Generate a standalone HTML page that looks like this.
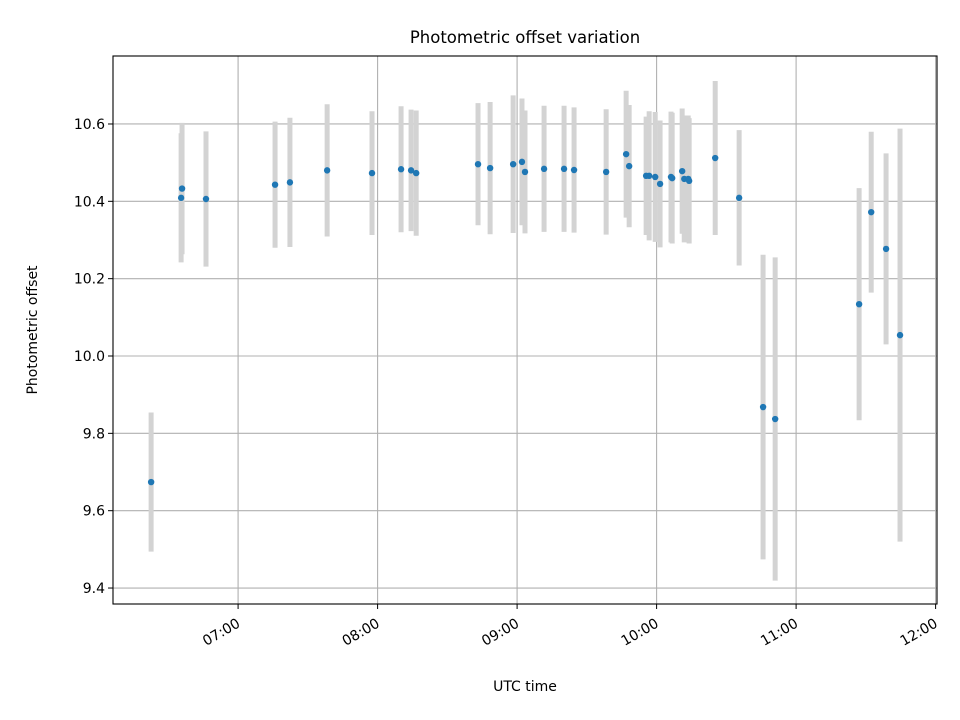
<!DOCTYPE html>
<html><head><meta charset="utf-8"><style>
body{margin:0;background:#fff;}
svg{display:block;font-family:"DejaVu Sans","Liberation Sans",sans-serif;}
</style></head><body>
<svg id="chart" width="960" height="720" viewBox="0 0 960 720">
<rect x="0" y="0" width="960" height="720" fill="#fff"/>
<g id="grid"></g>
<g id="marks"></g>
<g id="axes"></g>
<text x="525" y="43" text-anchor="middle" font-size="16.5" fill="#000">Photometric offset variation</text>
<text x="525" y="691" text-anchor="middle" font-size="14" fill="#000">UTC time</text>
<text x="0" y="0" transform="translate(37,330) rotate(-90)" text-anchor="middle" font-size="14" fill="#000">Photometric offset</text>
</svg>
<script>
// time in minutes since midnight UTC
const times = [382.6,395.5,395.9,406.2,435.9,442.3,458.3,477.6,490.1,494.4,496.6,523.2,528.4,538.3,542.1,543.4,551.6,560.2,564.5,578.3,586.9,588.2,595.5,596.8,599.4,601.5,606.2,606.7,611.0,611.9,613.6,614.0,625.2,635.5,645.8,651.0,687.1,692.3,698.7,704.7];
const offsets = [9.674,10.409,10.433,10.406,10.443,10.449,10.480,10.473,10.483,10.480,10.473,10.496,10.486,10.496,10.502,10.476,10.484,10.484,10.481,10.476,10.522,10.491,10.466,10.466,10.463,10.445,10.463,10.460,10.478,10.458,10.458,10.453,10.512,10.409,9.868,9.837,10.134,10.372,10.277,10.054];
const errors = [0.180,0.167,0.170,0.175,0.163,0.167,0.171,0.160,0.163,0.157,0.162,0.158,0.171,0.178,0.164,0.159,0.163,0.163,0.162,0.162,0.164,0.158,0.153,0.167,0.168,0.164,0.169,0.169,0.162,0.164,0.164,0.162,0.199,0.175,0.394,0.418,0.300,0.208,0.247,0.534];
const yTicks = [9.4,9.6,9.8,10.0,10.2,10.4,10.6];
const xTicks = [420,480,540,600,660,720];
const xTickLabels = ["07:00","08:00","09:00","10:00","11:00","12:00"];

const L=113,R=937,T=56,B=604;
const xMin=366.2,xMax=720.6,yMin=9.3587,yMax=10.7758;
const xs=v=>L+(v-xMin)/(xMax-xMin)*(R-L);
const ys=v=>B-(v-yMin)/(yMax-yMin)*(B-T);
const NS="http://www.w3.org/2000/svg";
function mk(parent,tag,attrs){const e=document.createElementNS(NS,tag);for(const k in attrs)e.setAttribute(k,attrs[k]);parent.appendChild(e);return e;}
const grid=document.getElementById('grid'),marks=document.getElementById('marks'),axes=document.getElementById('axes');

yTicks.forEach((t,i)=>{
  const y=ys(t);
  const g=mk(grid,'line',{x1:L,x2:R,y1:y,y2:y,stroke:'#b0b0b0','stroke-width':1.1});
  
  
  const tk=mk(axes,'line',{x1:L-5,x2:L,y1:y,y2:y,stroke:'#000','stroke-width':1});
  
  
  const tx=mk(axes,'text',{x:L-8,y:y+5,'text-anchor':'end','font-size':14,fill:'#000'});
  tx.textContent=t.toFixed(1);
  
  
});
xTicks.forEach((t,i)=>{
  const x=xs(t);
  const g=mk(grid,'line',{x1:x,x2:x,y1:T,y2:B,stroke:'#b0b0b0','stroke-width':1.1});
  
  
  const tk=mk(axes,'line',{x1:x,x2:x,y1:B,y2:B+5,stroke:'#000','stroke-width':1});
  
  
  const tx=mk(axes,'text',{x:0,y:0,'text-anchor':'end','font-size':14,fill:'#000',transform:`translate(${x+3},${B+22}) rotate(-30)`});
  tx.textContent=xTickLabels[i];
  
  
});
times.forEach((t,i)=>{
  const x=xs(t);
  const b=mk(marks,'line',{x1:x,x2:x,y1:ys(offsets[i]+errors[i]),y2:ys(offsets[i]-errors[i]),stroke:'#d3d3d3','stroke-width':5});
  
  
});
times.forEach((t,i)=>{
  const c=mk(marks,'circle',{cx:xs(t),cy:ys(offsets[i]),r:3.2,fill:'#1f77b4'});
  
  
});
const fr=mk(axes,'rect',{x:L,y:T,width:R-L,height:B-T,fill:'none',stroke:'#000','stroke-width':1.1});


</script>
</body></html>
